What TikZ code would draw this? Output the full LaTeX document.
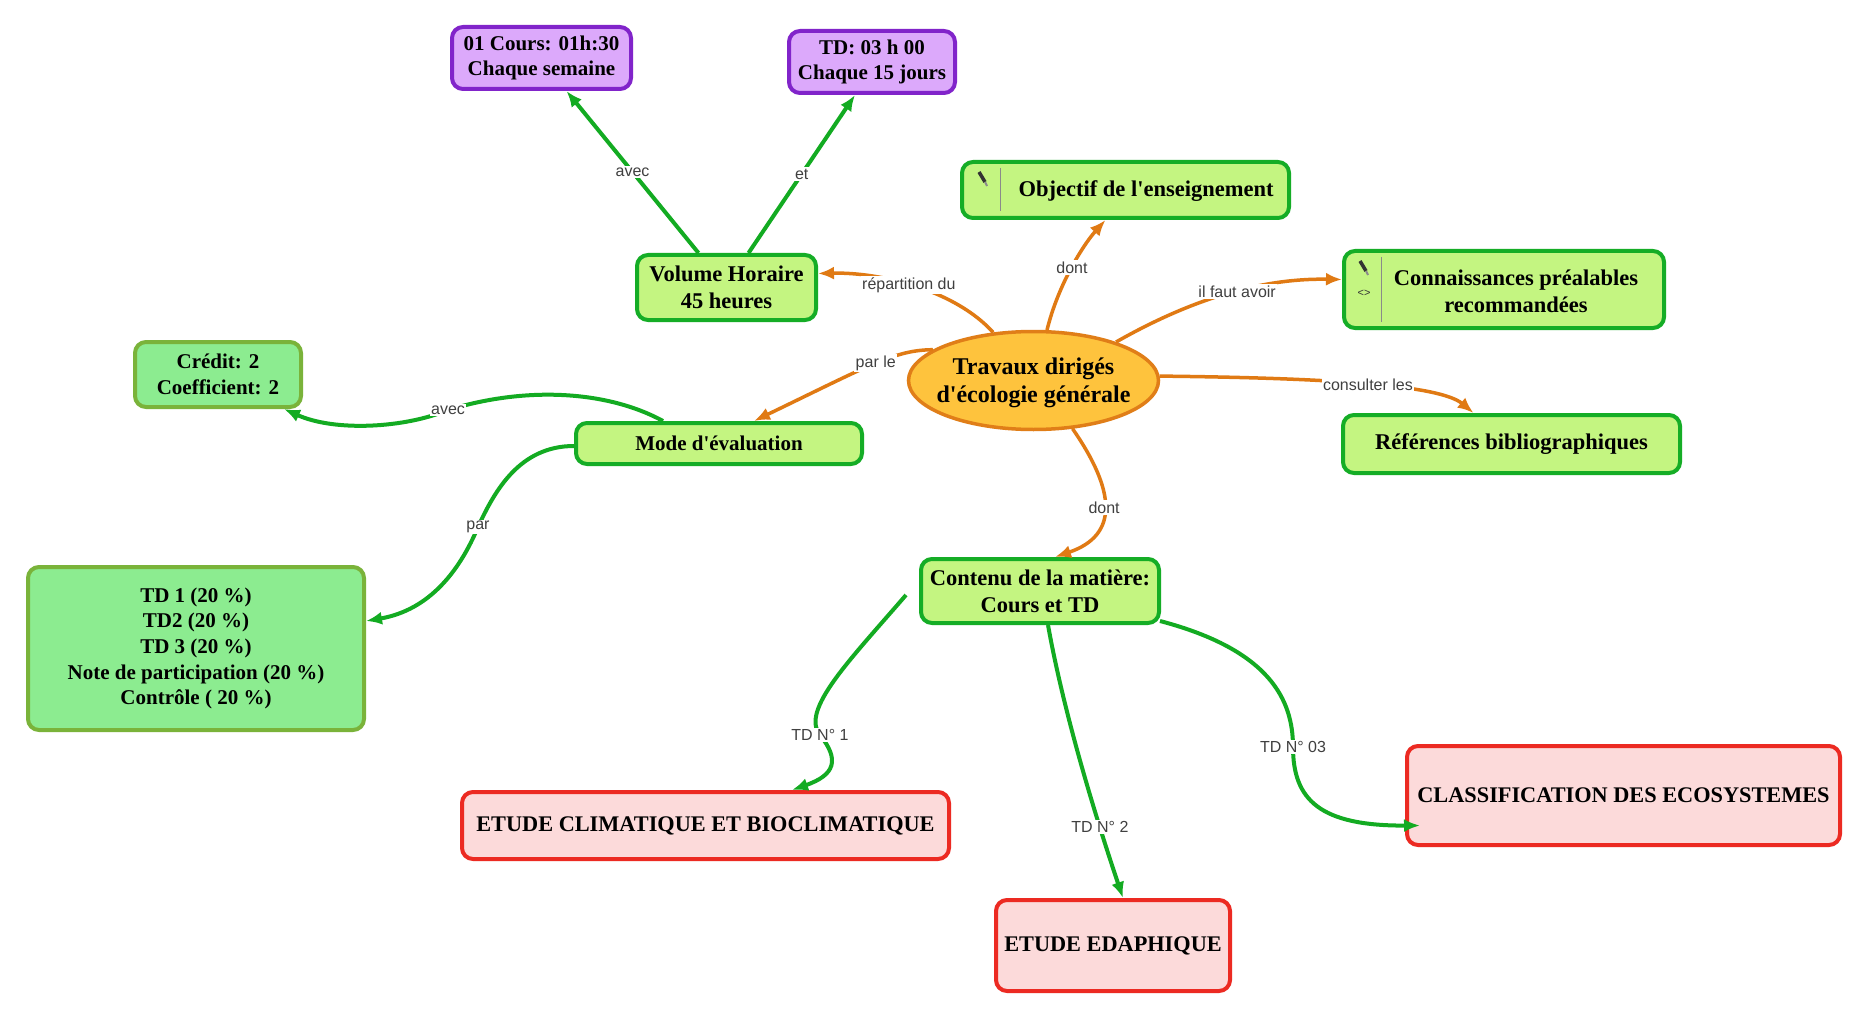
\documentclass[tikz,border=0pt]{standalone}
\usepackage{fontspec}
\newfontfamily\tnr{Liberation Serif}
\newfontfamily\labfont{Liberation Sans}
\usetikzlibrary{shapes.geometric,arrows.meta,calc}
\definecolor{limefill}{HTML}{C4F581}
\definecolor{limeborder}{HTML}{15AD26}
\definecolor{mintfill}{HTML}{8CEC90}
\definecolor{mintborder}{HTML}{7AB33A}
\definecolor{purfill}{HTML}{DCA9FB}
\definecolor{purborder}{HTML}{8124CA}
\definecolor{redfill}{HTML}{FCDADA}
\definecolor{redborder}{HTML}{EC2A22}
\definecolor{ellfill}{HTML}{FEC33D}
\definecolor{ellborder}{HTML}{E07E18}
\definecolor{garr}{HTML}{13AB22}
\definecolor{oarr}{HTML}{E07A14}
\definecolor{labgray}{HTML}{404040}
\definecolor{sepgray}{HTML}{8A8A8A}
\definecolor{icongray}{HTML}{333333}
\begin{document}
\begin{tikzpicture}[x=1pt,y=-1pt,
  box/.style={rounded corners=11pt, line width=4pt, inner sep=0pt, align=center},
  limebox/.style={box, draw=limeborder, fill=limefill, font=\tnr\fontsize{22.5}{27}\selectfont\bfseries},
  mintbox/.style={box, draw=mintborder, fill=mintfill, font=\tnr\fontsize{21}{25.7}\selectfont\bfseries},
  purbox/.style={box, draw=purborder, fill=purfill, font=\tnr\fontsize{21}{25.5}\selectfont\bfseries},
  redbox/.style={box, draw=redborder, fill=redfill, font=\tnr\fontsize{22.3}{27}\selectfont\bfseries},
  btext/.style={inner sep=0pt, align=center, font=\tnr\fontsize{22.5}{27}\selectfont\bfseries},
  lab/.style={fill=white, inner sep=1.5pt, text=labgray, font=\labfont\fontsize{16}{18}\selectfont},
  garrow/.style={draw=garr, line width=4pt, -{Latex[length=16pt,width=13pt]}},
  oarrow/.style={draw=oarr, line width=3.5pt, -{Latex[length=16pt,width=13pt]}},
  sepline/.style={draw=sepgray, line width=1pt},
  pencil/.style={draw=icongray, line width=3.5pt}
]
\fill[white] (0,0) rectangle (1869,1019);
\useasboundingbox (0,0) rectangle (1869,1019);

% central node
\node[ellipse, draw=ellborder, fill=ellfill, line width=3.5pt, minimum width=250pt, minimum height=98pt,
      inner sep=0pt] (ell) at (1033.5,380.5) {};
\node[inner sep=0pt, align=center, font=\tnr\fontsize{24}{28}\selectfont\bfseries] (ellt) at (1033.5,383)
      {Travaux dirigés\\d'écologie générale};

% boxes
\node[purbox, minimum width=179pt, minimum height=62pt] (cours) at (541.5,58) {01 Cours: 01h:30\\Chaque semaine};
\node[purbox, minimum width=166pt, minimum height=62pt] (td) at (872,62) {TD: 03 h 00\\Chaque 15 jours};
\node[limebox, minimum width=179pt, minimum height=65pt] (vol) at (726.5,287.5) {Volume Horaire\\45 heures};
\node[limebox, minimum width=327pt, minimum height=56pt] (obj) at (1125.5,190) {};
\node[btext] (objt) at (1146,191) {Objectif de l'enseignement};
\node[limebox, minimum width=320pt, minimum height=77pt] (conn) at (1504,289.5) {};
\node[btext] (connt) at (1516,291) {Connaissances préalables\\recommandées};
\node[limebox, minimum width=337pt, minimum height=58pt] (ref) at (1511.5,444) {Références bibliographiques};
\node[mintbox, minimum width=166pt, minimum height=65pt] (credit) at (218,374.5) {Crédit: 2\\Coefficient: 2};
\node[limebox, minimum width=286pt, minimum height=41pt, font=\tnr\fontsize{21}{25}\selectfont\bfseries] (mode) at (719,443.5) {Mode d'évaluation};
\node[mintbox, minimum width=336pt, minimum height=163pt] (tdlist) at (196,648.5)
  {TD 1 (20 \%)\\TD2 (20 \%)\\TD 3 (20 \%)\\Note de participation (20 \%)\\Contrôle ( 20 \%)};
\node[limebox, minimum width=238pt, minimum height=64pt] (contenu) at (1040,591) {Contenu de la matière:\\Cours et TD};
\node[redbox, minimum width=487pt, minimum height=67pt] (clim) at (705.5,825.5) {ETUDE CLIMATIQUE ET BIOCLIMATIQUE};
\node[redbox, minimum width=234pt, minimum height=91pt] (edaph) at (1113,945.5) {ETUDE EDAPHIQUE};
\node[redbox, minimum width=433pt, minimum height=99pt] (classif) at (1623.5,795.5) {CLASSIFICATION DES ECOSYSTEMES};

% icons
\draw[sepline] (1000,168) -- (1000,211);
\draw[pencil] (979,172) -- (985,182);
\draw[draw=sepgray, line width=2pt] (985,182) -- (987,186);
\draw[sepline] (1381,257) -- (1381,322);
\draw[pencil] (1360,261) -- (1366,271);
\draw[draw=sepgray, line width=2pt] (1366,271) -- (1368,275);
\node[inner sep=0pt, text=icongray, font=\labfont\fontsize{11}{12}\selectfont] (codeicon) at (1364,293) {<>};

% orange connectors
\draw[oarrow] (ell.130) .. controls (955,290) and (880,272) .. node[lab, pos=0.53] {répartition du} ($(vol.east)+(0,-14)$);
\draw[oarrow] (ell.75) .. controls (1058,285) and (1083,245) .. node[lab, pos=0.5] {dont} ($(obj.south)+(-20,0)$);
\draw[oarrow] (ell.25) .. controls (1190,300) and (1260,278) .. node[lab, pos=0.55] {il faut avoir} ($(conn.west)+(0,-10)$);
\draw[oarrow] (ell.2) .. controls (1330,378) and (1440,385) .. node[lab, pos=0.5] {consulter les} ($(ref.north)+(-38,0)$);
\draw[oarrow] (ell.163) .. controls (895,350) and (870,365) .. node[lab, pos=0.48] {par le} ($(mode.north)+(35,0)$);
\draw[oarrow] (ell.309) .. controls (1115,490) and (1120,535) .. node[lab, pos=0.5] {dont} ($(contenu.north)+(15,0)$);

% green connectors
\draw[garrow] ($(vol.north)+(-28,0)$) -- node[lab, pos=0.5] {avec} ($(cours.south)+(25,0)$);
\draw[garrow] ($(vol.north)+(22,0)$) -- node[lab, pos=0.5] {et} ($(td.south)+(-17,0)$);
\draw[garrow] ($(mode.north)+(-56,0)$) .. controls (610,392) and (530,385) .. (448,410) node[lab] {avec}
   .. controls (405,428) and (335,432) .. ($(credit.south)+(66,0)$);
\draw[garrow] ($(mode.west)+(0,2.5)$) .. controls (520,446) and (495,490) .. (478,527) node[lab] {par}
   .. controls (460,570) and (430,610) .. ($(tdlist.east)+(0,-27.5)$);
\draw[garrow] ($(contenu.west)+(-13,4)$) .. controls (850,660) and (800,710) .. (820,735) node[lab] {TD N° 1}
   .. controls (840,760) and (835,775) .. ($(clim.north)+(86.5,0)$);
\draw[garrow] ($(contenu.south)+(8,0)$) .. controls (1065,720) and (1100,830) .. node[lab, pos=0.7] {TD N° 2} ($(edaph.north)+(10,0)$);
\draw[garrow] ($(contenu.south east)+(-1,-4)$) .. controls (1270,650) and (1293,700) .. (1293,747) node[lab] {TD N° 03}
   .. controls (1293,800) and (1320,826) .. ($(classif.west)+(15,30)$);
\end{tikzpicture}
\end{document}
